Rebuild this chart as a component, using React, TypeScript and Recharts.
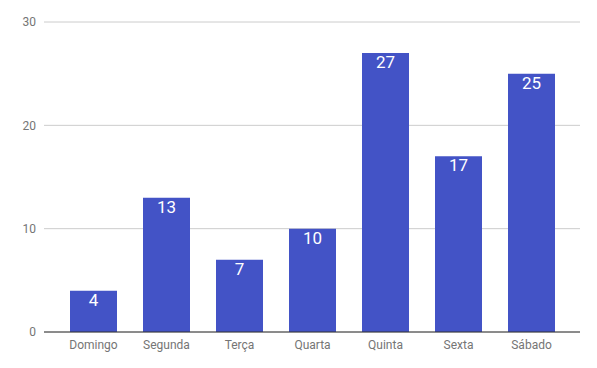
import React from "react";
import { BarChart, Bar, XAxis, YAxis, CartesianGrid, LabelList } from "recharts";

const categories = ["Domingo", "Segunda", "Terça", "Quarta", "Quinta", "Sexta", "Sábado"];
const values = [4, 13, 7, 10, 27, 17, 25];
const yTicks = [0, 10, 20, 30];

const data = categories.map((name, i) => ({ name, value: values[i] }));

export default function App() {
  return (
    <div style={{ position: "absolute", left: 0, top: 0, fontFamily: "Roboto" }}>
      <BarChart
        width={597}
        height={368}
        data={data}
        margin={{ top: 22, right: 17, bottom: 6, left: 0 }}
      >
        <CartesianGrid vertical={false} stroke="#cccccc" />
        <XAxis
          dataKey="name"
          tickLine={false}
          axisLine={{ stroke: "#333333" }}
          padding={{ left: 13, right: 12 }}
          tick={{ fill: "#757575", fontSize: 12, fontFamily: "Roboto" }}
          height={30}
          interval={0}
        />
        <YAxis
          domain={[0, 30]}
          ticks={yTicks}
          tickLine={false}
          axisLine={false}
          width={44}
          tick={{ fill: "#757575", fontSize: 12, fontFamily: "Roboto" }}
        />
        <Bar dataKey="value" fill="#4353c6" barSize={47} isAnimationActive={false}>
          <LabelList
            dataKey="value"
            position="insideTop"
            offset={3}
            fill="#ffffff"
            fontSize={17}
            fontFamily="Roboto"
          />
        </Bar>
      </BarChart>
    </div>
  );
}
